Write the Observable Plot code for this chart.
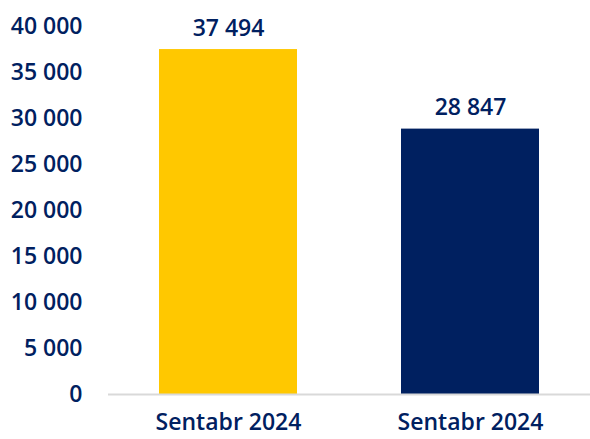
<!DOCTYPE html>
<html>
<head>
<meta charset="utf-8">
<script src="https://cdn.jsdelivr.net/npm/d3@7"></script>
<script src="https://cdn.jsdelivr.net/npm/@observablehq/plot@0.6"></script>
<style>
  html, body { margin: 0; padding: 0; background: #fff; }
  #chart { width: 590px; height: 439px; }
</style>
</head>
<body>
<div id="chart"></div>
<script>
const categories = ["Sentabr 2024 (A)", "Sentabr 2024 (B)"];
const categoryLabels = ["Sentabr 2024", "Sentabr 2024"];
const values = [37494, 28847];
const barColors = ["#FFC800", "#002060"];
const yTicks = [0, 5000, 10000, 15000, 20000, 25000, 30000, 35000, 40000];

const data = categories.map((c, i) => ({cat: c, label: categoryLabels[i], value: values[i], color: barColors[i]}));
const fmt = v => d3.format(",")(v).replace(/,/g, " ");
const navy = "#002060";
const font = "'Open Sans', sans-serif";

const chart = Plot.plot({
  width: 590,
  height: 439,
  marginLeft: 108,
  marginRight: 0,
  marginTop: 26,
  marginBottom: 45,
  style: {fontFamily: font, fontSize: "23px", fontWeight: 600, color: navy, background: "#fff"},
  x: {domain: categories, paddingInner: 0.43, paddingOuter: 0.21, label: null},
  y: {domain: [0, 40000], label: null},
  marks: [
    Plot.barY(data, {x: "cat", y: "value", fill: d => d.color}),
    Plot.ruleY([0], {stroke: "#d9d9d9", strokeWidth: 2}),
    Plot.text(data, {x: "cat", y: "value", text: d => fmt(d.value), lineAnchor: "bottom", dy: -14, fill: navy, fontSize: 23, fontWeight: 600}),
    Plot.axisY({ticks: yTicks, tickSize: 0, tickPadding: 26, tickFormat: fmt, fill: navy, fontSize: 23, fontWeight: 600, label: null}),
    Plot.axisX({tickSize: 0, tickPadding: 19, tickFormat: c => categoryLabels[categories.indexOf(c)], fill: navy, fontSize: 23, fontWeight: 600, label: null})
  ]
});
chart.querySelectorAll("text").forEach(t => t.style.fontWeight = 600);
document.getElementById("chart").appendChild(chart);
</script>
</body>
</html>
